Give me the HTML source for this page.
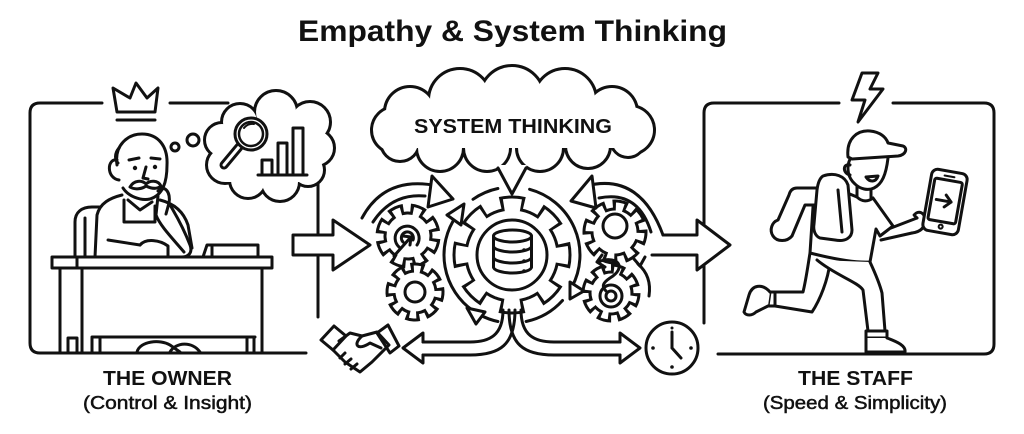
<!DOCTYPE html>
<html><head><meta charset="utf-8"><style>html,body{margin:0;padding:0;background:#fff}svg{display:block}</style></head>
<body>
<svg width="1024" height="434" viewBox="0 0 1024 434" xmlns="http://www.w3.org/2000/svg">
<rect width="1024" height="434" fill="#fff"/>

<!-- Title -->
<text x="298" y="41" font-family="Liberation Sans, Arial, sans-serif" font-weight="700" font-size="30" textLength="429" lengthAdjust="spacingAndGlyphs" fill="#111">Empathy &amp; System Thinking</text>

<g fill="none" stroke="#111" stroke-width="3" stroke-linecap="round" stroke-linejoin="round">
  <!-- Left box -->
  <path d="M102,103 L40,103 Q30,103 30,113 L30,343 Q30,353 40,353 L306,353"/>
  <path d="M170,103 L228,103"/>
  <path d="M318,176 L318,317"/>
  <!-- Crown -->
  <path d="M113,88 L130,98 L136,83 L147,98 L158,88 L155,112 L117,112 Z"/>
  <path d="M117,120 L155,120"/>

  <!-- Right box -->
  <path d="M839,103 L714,103 Q704,103 704,113 L704,323"/>
  <path d="M893,103 L984,103 Q994,103 994,113 L994,344 Q994,354 984,354 L718,354"/>
  <!-- Lightning -->
  <path d="M862,73 L878,73 L870,89 L883,89 L858,122 L865,100 L852,100 Z"/>
</g>

<!-- Owner thought cloud -->
<g stroke="#111" stroke-width="6" fill="#fff">
  <circle cx="240" cy="122" r="17"/><circle cx="276" cy="112" r="20"/><circle cx="310" cy="122" r="19"/>
  <circle cx="316" cy="148" r="17"/><circle cx="308" cy="170" r="15"/><circle cx="280" cy="182" r="18"/>
  <circle cx="248" cy="180" r="17"/><circle cx="225" cy="165" r="17"/><circle cx="222" cy="140" r="16"/>
</g>
<g fill="#fff">
  <circle cx="240" cy="122" r="17"/><circle cx="276" cy="112" r="20"/><circle cx="310" cy="122" r="19"/>
  <circle cx="316" cy="148" r="17"/><circle cx="308" cy="170" r="15"/><circle cx="280" cy="182" r="18"/>
  <circle cx="248" cy="180" r="17"/><circle cx="225" cy="165" r="17"/><circle cx="222" cy="140" r="16"/>
  <rect x="225" y="120" width="90" height="62"/>
</g>
<g fill="none" stroke="#111" stroke-width="3" stroke-linecap="round" stroke-linejoin="round">
  <circle cx="175" cy="147" r="4"/>
  <circle cx="193" cy="140" r="6"/>
  <!-- magnifier -->
  <line x1="239" y1="147" x2="224" y2="165" stroke-width="9"/>
  <line x1="239" y1="147" x2="224" y2="165" stroke="#fff" stroke-width="3"/>
  <circle cx="251" cy="134" r="16" fill="#fff"/>
  <circle cx="251" cy="134" r="12" stroke-width="2.5"/>
  <path d="M244,128 Q248,123 254,124" stroke-width="2"/>
  <!-- bars -->
  <rect x="262" y="160" width="10" height="15"/>
  <rect x="278" y="143" width="9" height="32"/>
  <rect x="293" y="128" width="10" height="47"/>
  <path d="M258,175 L307,175"/>
</g>

<!-- Owner figure -->
<g fill="none" stroke="#111" stroke-width="3" stroke-linecap="round" stroke-linejoin="round">
  <!-- chair -->
  <path d="M75,258 L75,222 C75,212 82,207 92,207 L100,207"/>
  <path d="M85,258 L85,218"/>
  <!-- body -->
  <path d="M122,195 C110,198 100,203 97,215 L95,257" fill="#fff"/>
  <path d="M160,200 C172,203 183,210 188,225 L192,248"/>
  <path d="M128,200 L140,210 L152,202"/>
  <path d="M124,200 L124,222 L155,222 L155,206"/>
  <path d="M108,240 L140,245"/>
  <path d="M140,245 C146,238 160,240 168,246 L168,257"/>
  <!-- head -->
  <path d="M117,165 C114,145 128,134 142,134 C158,134 168,146 167,165 C167,182 163,195 150,199 C140,201 128,196 123,188" fill="#fff"/>
  <path d="M117,160 C107,158 106,178 119,180"/>
  <path d="M119,148 C114,154 115,160 118,163"/>
  <path d="M129,160 L139,158 M151,158 L160,159"/>
  <path d="M146,167 L143,178 L148,179"/>
  <path d="M130,187 C134,180 142,180 146,184 C150,180 158,180 161,186 C156,190 150,188 146,186 C142,189 135,190 130,187 Z"/>
  <!-- hand at chin / forearm -->
  <path d="M158,191 C165,184 171,193 169,203 L166,214"/>
  <path d="M158,196 L156,215 C160,226 174,240 184,252"/>
  <path d="M169,203 C174,212 182,224 190,245 C193,253 188,257 182,257"/>
  <!-- desk -->
  <rect x="52" y="257" width="220" height="11" fill="#fff"/>
  <path d="M77,257 L77,268"/>
  <path d="M60,268 L60,352 M82,268 L82,352 M262,268 L262,352"/>
  <path d="M92,337 L255,337"/>
  <path d="M68,352 L68,338 L77,338 L77,352"/>
  <path d="M92,352 L92,338 M100,352 L100,338"/>
  <path d="M247,352 L247,338 M254,352 L254,338"/>
  <path d="M137,352 C140,341 160,339 170,345 L180,352"/>
  <path d="M170,352 C176,342 192,341 200,352"/>
  <!-- box on desk -->
  <path d="M203,257 L207,245 L258,245 L258,257"/>
  <path d="M212,245 L212,257"/>
</g>

<!-- Big cloud -->
<g stroke="#111" stroke-width="6" fill="#fff">
  <circle cx="410" cy="112" r="24"/><circle cx="460" cy="100" r="30"/><circle cx="512" cy="98" r="31"/>
  <circle cx="565" cy="100" r="30"/><circle cx="612" cy="112" r="24"/><circle cx="395" cy="130" r="22"/>
  <circle cx="630" cy="130" r="23"/><circle cx="400" cy="142" r="18"/><circle cx="440" cy="148" r="22"/>
  <circle cx="487" cy="148" r="22"/><circle cx="540" cy="148" r="22"/><circle cx="588" cy="146" r="21"/>
  <circle cx="628" cy="140" r="16"/>
</g>
<g fill="#fff">
  <circle cx="410" cy="112" r="24"/><circle cx="460" cy="100" r="30"/><circle cx="512" cy="98" r="31"/>
  <circle cx="565" cy="100" r="30"/><circle cx="612" cy="112" r="24"/><circle cx="395" cy="130" r="22"/>
  <circle cx="630" cy="130" r="23"/><circle cx="400" cy="142" r="18"/><circle cx="440" cy="148" r="22"/>
  <circle cx="487" cy="148" r="22"/><circle cx="540" cy="148" r="22"/><circle cx="588" cy="146" r="21"/>
  <circle cx="628" cy="140" r="16"/>
  <rect x="400" y="100" width="225" height="48"/>
  <polygon points="497,165 527,165 512,194"/>
</g>
<path d="M498,168 L512,194 L526,168" fill="none" stroke="#111" stroke-width="3" stroke-linejoin="round" stroke-linecap="round"/>
<text x="414" y="133" font-family="Liberation Sans, Arial, sans-serif" font-weight="700" font-size="20" textLength="198" lengthAdjust="spacingAndGlyphs" fill="#111">SYSTEM THINKING</text>

<!-- Block arrows -->
<g fill="#fff" stroke="#111" stroke-width="3" stroke-linejoin="round" stroke-linecap="round">
  <path d="M293,235 L333,235 L333,220 L370,245 L333,270 L333,255 L293,255 Z"/>
  <path d="M663,235 L697,235 L697,220 L730,245 L697,270 L697,255 L652,255"/>
</g>

<!-- Gears -->
<!-- Center gear -->
<g>
  <circle cx="512" cy="255" r="47.5" fill="#111"/>
  <circle cx="512" cy="255" r="52.75" fill="none" stroke="#111" stroke-width="13.5" stroke-dasharray="24.1 17.33" stroke-dashoffset="12.05"/>
  <circle cx="512" cy="255" r="44.5" fill="#fff"/>
  <circle cx="512" cy="255" r="49.75" fill="none" stroke="#fff" stroke-width="13.5" stroke-dasharray="16.9 22.17" stroke-dashoffset="8.45"/>
</g>
<!-- UL gear -->
<g transform="rotate(20 408 236)">
  <circle cx="408" cy="236" r="24.5" fill="#111"/>
  <circle cx="408" cy="236" r="27.75" fill="none" stroke="#111" stroke-width="9.5" stroke-dasharray="14.66 7.13" stroke-dashoffset="7.33"/>
  <circle cx="408" cy="236" r="21.5" fill="#fff"/>
  <circle cx="408" cy="236" r="24.75" fill="none" stroke="#fff" stroke-width="9.5" stroke-dasharray="7.40 12.04" stroke-dashoffset="3.70"/>
</g>
<!-- LL gear -->
<g transform="rotate(5 415 292)">
  <circle cx="415" cy="292" r="22.5" fill="#111"/>
  <circle cx="415" cy="292" r="25.25" fill="none" stroke="#111" stroke-width="8.5" stroke-dasharray="13.6 6.23" stroke-dashoffset="6.80"/>
  <circle cx="415" cy="292" r="19.5" fill="#fff"/>
  <circle cx="415" cy="292" r="22.25" fill="none" stroke="#fff" stroke-width="8.5" stroke-dasharray="6.35 11.12" stroke-dashoffset="3.17"/>
</g>
<!-- UR gear -->
<g transform="rotate(10 615 232)">
  <circle cx="615" cy="232" r="24.5" fill="#111"/>
  <circle cx="615" cy="232" r="27.75" fill="none" stroke="#111" stroke-width="9.5" stroke-dasharray="14.66 7.13" stroke-dashoffset="7.33"/>
  <circle cx="615" cy="232" r="21.5" fill="#fff"/>
  <circle cx="615" cy="232" r="24.75" fill="none" stroke="#fff" stroke-width="9.5" stroke-dasharray="7.40 12.04" stroke-dashoffset="3.70"/>
</g>
<!-- LR gear -->
<g transform="rotate(15 611 293)">
  <circle cx="611" cy="293" r="22.5" fill="#111"/>
  <circle cx="611" cy="293" r="25.25" fill="none" stroke="#111" stroke-width="8.5" stroke-dasharray="13.6 6.23" stroke-dashoffset="6.80"/>
  <circle cx="611" cy="293" r="19.5" fill="#fff"/>
  <circle cx="611" cy="293" r="22.25" fill="none" stroke="#fff" stroke-width="8.5" stroke-dasharray="6.35 11.12" stroke-dashoffset="3.17"/>
</g>

<g fill="none" stroke="#111" stroke-width="3" stroke-linecap="round" stroke-linejoin="round">
  <!-- center inner circle + database -->
  <circle cx="512" cy="255" r="35"/>
  <ellipse cx="512.5" cy="236" rx="19" ry="6"/>
  <path d="M493.5,236 L493.5,267 M531.5,236 L531.5,267"/>
  <path d="M493.5,246 A19,6 0 0 0 531.5,246"/>
  <path d="M493.5,257 A19,6 0 0 0 531.5,257"/>
  <path d="M493.5,267 A19,6 0 0 0 531.5,267"/>

  <!-- center ring arcs -->
  <path d="M456.3,216 A68,68 0 0 0 473,310.7"/>
  <path d="M473,199.3 A68,68 0 0 1 497.9,188.5"/>
  <path d="M529.6,189.3 A68,68 0 0 1 572,286.9"/>
  <path d="M562.5,300.5 A68,68 0 0 1 526.1,321.5"/>
  <path d="M497.9,321.5 A68,68 0 0 1 480.1,315"/>
  <polygon points="464,204 447,215 461,225" fill="#fff"/>
  <polygon points="467,308 485,312 476,324" fill="#fff"/>
  <polygon points="570,282 584,291 570,299" fill="#fff"/>

  <!-- left curved arrow -->
  <path d="M362,218 Q385,175 438,186"/>
  <path d="M373,222 Q392,193 425,196"/>
  <polygon points="432,176 453,199 428,207" fill="#fff"/>
  <!-- right curved arrow -->
  <path d="M586,186 Q640,172 663,235"/>
  <path d="M599,198 Q638,190 651,232"/>
  <polygon points="592,176 571,201 596,208" fill="#fff"/>
  <path d="M638,264 Q652,276 649,296"/>
  <path d="M634,259 L640,266 L645,257"/>

  <!-- small gear internals -->
  <path d="M399,247 A12,12 0 1 1 417,245"/>
  <path d="M403,242 A6,6 0 1 1 413,240"/>
  <path d="M394,256 L410,238"/>
  <path d="M403,236 L411,237 L410,245"/>
  <circle cx="415" cy="292" r="10"/>
  <circle cx="615" cy="226" r="12"/>
  <circle cx="611" cy="296" r="11"/>
  <circle cx="611" cy="296" r="5"/>
  <path d="M598,262 C615,255 627,265 613,276 C605,281 600,285 606,291"/>
  <path d="M602,255 L597,262 L605,267"/>

  <!-- bottom double arrows -->
  <path d="M503,310 C503,335 490,342 470,342 L423,342"/>
  <path d="M515,310 C515,345 500,355 470,355 L423,355"/>
  <path d="M521,310 C521,335 534,342 554,342 L620,342"/>
  <path d="M509,310 C509,345 524,355 554,355 L620,355"/>
  <path d="M423,342 L423,333 L403,348 L423,363 L423,355"/>
  <path d="M620,342 L620,333 L640,348 L620,363 L620,355"/>

  <!-- clock -->
  <circle cx="672" cy="348" r="26"/>
  <path d="M672,348 L672,332 M672,348 L681,358"/>

  <!-- handshake -->
  <path d="M321,340 L334,326 L346,336 L333,350 Z"/>
  <path d="M377,333 L388,325 L399,346 L390,353 Z"/>
  <path d="M339,341 L350,333 L362,336 L377,332 L389,345 L372,362 L360,372 L345,362 L333,350"/>
  <path d="M362,336 C352,345 358,351 370,343 L381,348"/>
  <path d="M345,353 L340,358 M351,359 L345,364 M357,364 L351,369"/>
</g>
<g fill="#111">
  <circle cx="524" cy="250" r="1.8"/><circle cx="524" cy="261" r="1.8"/><circle cx="524" cy="271" r="1.8"/>
  <circle cx="653" cy="348" r="1.8"/><circle cx="691" cy="348" r="1.8"/><circle cx="672" cy="367" r="1.8"/><circle cx="672" cy="328" r="1.5"/>
  <circle cx="135" cy="168" r="2.2"/><circle cx="155" cy="167" r="2.2"/>
  <circle cx="868" cy="165" r="2"/><circle cx="879" cy="163" r="2"/>
</g>

<!-- Staff figure -->
<g fill="none" stroke="#111" stroke-width="3" stroke-linecap="round" stroke-linejoin="round">
  <!-- back arm -->
  <path d="M822,188 L797,188 C792,188 790,191 789,195 L778,220 C772,222 769,230 773,236 C777,242 787,242 792,236 L805,205 L818,205" fill="#fff"/>
  <!-- back leg -->
  <path d="M810,253 C808,265 806,280 803,292 L775,292 L770,292 L768,306 L775,306 L812,312 C820,300 828,280 830,262" fill="#fff"/>
  <path d="M775,292 L775,306"/>
  <path d="M770,292 C762,283 752,285 749,295 L744,312 C746,316 752,316 756,312 L768,306" fill="#fff"/>
  <!-- torso -->
  <path d="M813,207 L810,253 C830,258 855,263 870,262 L876,229 L880,236 L893,226 L873,198 C868,202 862,202 857,197 L840,190 Z" fill="#fff"/>
  <!-- front leg -->
  <path d="M817,260 C835,275 858,282 863,290 L868,331 L885,331 L882,293 C880,285 876,275 870,262" fill="#fff"/>
  <path d="M866,331 L887,331 L887,338 L866,338 Z" fill="#fff"/>
  <path d="M866,338 L866,352 L905,352 C906,346 898,342 887,338" fill="#fff"/>
  <!-- backpack -->
  <path d="M823,176 C835,172 845,176 848,185 L852,230 C852,238 845,242 835,240 L820,238 C815,236 813,230 814,224 L817,190 C818,182 820,178 823,176 Z" fill="#fff"/>
  <path d="M838,190 L842,232"/>
  <!-- front arm -->
  <path d="M891,228 L917,218 M881,240 L912,233"/>
  <path d="M912,233 C920,232 925,228 925,220 C925,212 918,210 914,215 L917,218"/>
  <!-- neck/head -->
  <path d="M857,186 L857,197 M871,189 L871,198"/>
  <path d="M850,159 C846,168 848,178 855,184 C860,189 868,191 874,188 C882,184 886,175 888,158" fill="#fff"/>
  <path d="M850,165 C843,163 842,173 850,175"/>
  <path d="M866,177 C870,183 876,182 878,176 Z"/>
  <path d="M848,157 C846,138 858,130 870,131 C880,132 886,137 888,143 L903,146 C908,148 906,155 898,156 L852,159 Z" fill="#fff"/>
  <!-- phone -->
  <g transform="rotate(10 945 202)">
    <rect x="927" y="171" width="36" height="62" rx="6" fill="#fff"/>
    <rect x="931" y="180" width="28" height="42" rx="2"/>
    <path d="M936,201 L951,201 M945,195 L951,201 L945,207"/>
    <path d="M940,176 L950,176" stroke-width="2"/>
    <circle cx="945" cy="227" r="2" stroke-width="2"/>
  </g>
</g>

<!-- Labels -->
<g font-family="Liberation Sans, Arial, sans-serif" fill="#111">
  <text x="103" y="385" font-weight="700" font-size="20" textLength="129" lengthAdjust="spacingAndGlyphs">THE OWNER</text>
  <text x="83" y="409" font-size="18" textLength="169" lengthAdjust="spacingAndGlyphs" stroke="#111" stroke-width="0.5">(Control &amp; Insight)</text>
  <text x="798" y="385" font-weight="700" font-size="20" textLength="115" lengthAdjust="spacingAndGlyphs">THE STAFF</text>
  <text x="763" y="409" font-size="18" textLength="184" lengthAdjust="spacingAndGlyphs" stroke="#111" stroke-width="0.5">(Speed &amp; Simplicity)</text>
</g>
</svg>
</body></html>
